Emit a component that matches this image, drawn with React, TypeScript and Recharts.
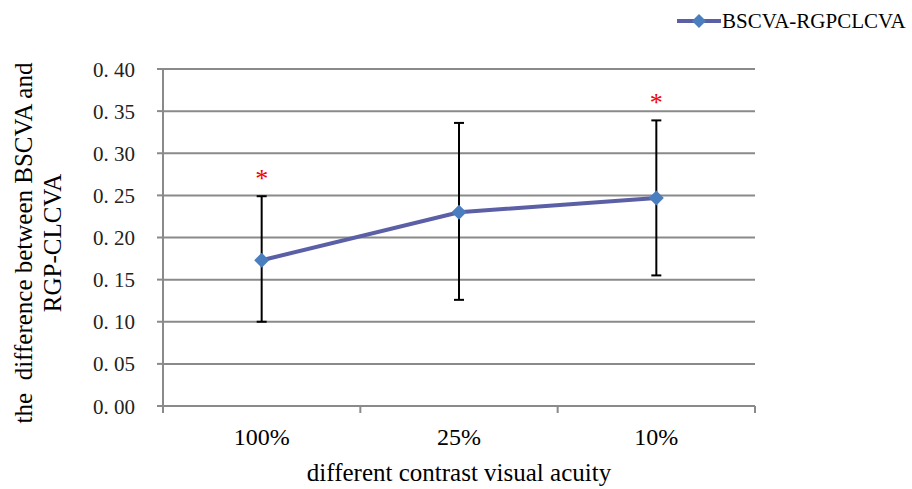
import React from 'react';
import { LineChart, Line, XAxis, YAxis, CartesianGrid, ErrorBar, LabelList, Legend, Label } from 'recharts';

const categories = ['100%', '25%', '10%'];
const meanDiff = [0.173, 0.23, 0.247];
const lowerBound = [0.1, 0.126, 0.155];
const upperBound = [0.249, 0.336, 0.339];
const significance = ['*', '', '*'];
const yTicks = [0, 0.05, 0.1, 0.15, 0.2, 0.25, 0.3, 0.35, 0.4];
// category centres sit at i + 0.5, boundaries at integers
const xTicks = [0, 0.5, 1, 1.5, 2, 2.5, 3];
const seriesName = 'BSCVA-RGPCLCVA';

const data = categories.map((c, i) => ({
  cat: c,
  idx: i + 0.5,
  value: meanDiff[i],
  err: [meanDiff[i] - lowerBound[i], upperBound[i] - meanDiff[i]],
  upper: upperBound[i],
  sig: significance[i],
}));

const FONT = 'Liberation Serif';
const GRID = '#8a8a8a';
const LINE = '#5b5fa6';
const MARK = '#4a7ebf';
const TICK_SIZE = 7;
const TICK_MARGIN = 15;

const Diamond = (props: any) => {
  const { cx, cy } = props;
  if (cx == null || cy == null) return null;
  const r = 7.5;
  return <path d={`M${cx},${cy - r}L${cx + r},${cy}L${cx},${cy + r}L${cx - r},${cy}Z`} fill={MARK} stroke="none" />;
};

const Star = (props: any) => {
  const { x, y, value } = props;
  if (!value || x == null || y == null) return null;
  return (
    <text x={x} y={y - 9} textAnchor="middle" fill="#f00000" fontSize={26} fontFamily={FONT} style={{ fontFamily: FONT }}>
      {value}
    </text>
  );
};

const YTick = (props: any) => {
  const { x, y, payload } = props;
  return (
    <text x={x} y={y} dy="0.36em" textAnchor="end" fontSize={21} fill="#222" fontFamily={FONT} style={{ fontFamily: FONT }}>
      {Number(payload.value).toFixed(2).replace('.', '. ')}
    </text>
  );
};

const XTick = (props: any) => {
  const { x, y, payload } = props;
  const v = Number(payload.value);
  if (Number.isInteger(v)) {
    const y0 = y - TICK_MARGIN - TICK_SIZE;
    return <line x1={x} x2={x} y1={y0} y2={y0 + TICK_SIZE} stroke={GRID} strokeWidth={2} />;
  }
  const label = categories[Math.floor(v)];
  return (
    <text x={x} y={y} dy="0.71em" textAnchor="middle" fontSize={24} fill="#000" fontFamily={FONT} style={{ fontFamily: FONT }}>
      {label}
    </text>
  );
};

const XTitle = (props: any) => {
  const vb = props.viewBox || {};
  const cx = (vb.x || 0) + (vb.width || 0) / 2;
  return (
    <text x={cx} y={481} textAnchor="middle" fontSize={25} fill="#000" fontFamily={FONT} style={{ fontFamily: FONT }}>
      different contrast visual acuity
    </text>
  );
};

const YTitle = () => (
  <g>
    <text transform="translate(23,243) rotate(-90)" textAnchor="middle" dominantBaseline="central" fontSize={25} fill="#000" fontFamily={FONT} style={{ fontFamily: FONT, whiteSpace: 'pre' }}>
      {'the  difference between BSCVA and'}
    </text>
    <text transform="translate(52,243) rotate(-90)" textAnchor="middle" dominantBaseline="central" fontSize={25} fill="#000" fontFamily={FONT} style={{ fontFamily: FONT }}>
      RGP-CLCVA
    </text>
  </g>
);

const LegendContent = () => (
  <svg width={242} height={40} style={{ display: 'block' }}>
    <line x1={7} y1={21} x2={51} y2={21} stroke={LINE} strokeWidth={4} />
    <path d="M29,14L36,21L29,28L22,21Z" fill={MARK} />
    <text x={52} y={28} fontSize={21} fill="#000" fontFamily={FONT} style={{ fontFamily: FONT }}>{seriesName}</text>
  </svg>
);

export default function App() {
  return (
    <div style={{ position: 'absolute', left: 0, top: 0, width: 912, height: 489, background: '#fff', fontFamily: FONT }}>
      <LineChart width={912} height={489} data={data} margin={{ top: 69, right: 157, left: 0, bottom: 0 }}>
        <CartesianGrid vertical={false} stroke={GRID} strokeWidth={2} />
        <XAxis
          type="number"
          dataKey="idx"
          domain={[0, 3]}
          allowDataOverflow
          ticks={xTicks}
          interval={0}
          tickSize={TICK_SIZE}
          tickMargin={TICK_MARGIN}
          tickLine={false}
          axisLine={{ stroke: GRID, strokeWidth: 2 }}
          height={83}
          tick={XTick}
        >
          <Label content={XTitle} />
        </XAxis>
        <YAxis
          domain={[0, 0.4]}
          ticks={yTicks}
          allowDataOverflow
          width={163}
          tickSize={6}
          tickMargin={22}
          axisLine={{ stroke: GRID, strokeWidth: 2 }}
          tickLine={{ stroke: GRID, strokeWidth: 2 }}
          tick={YTick}
        >
          <Label content={YTitle} />
        </YAxis>
        <Legend
          layout="horizontal"
          verticalAlign="middle"
          align="center"
          content={LegendContent}
          wrapperStyle={{ position: 'absolute', left: 670, top: 0, width: 242, height: 40 }}
        />
        <Line
          dataKey="value"
          name={seriesName}
          stroke={LINE}
          strokeWidth={4}
          dot={Diamond}
          activeDot={false}
          isAnimationActive={false}
        >
          <ErrorBar dataKey="err" direction="y" width={5} stroke="#000" strokeWidth={2} />
        </Line>
        <Line
          dataKey="upper"
          stroke="none"
          dot={false}
          activeDot={false}
          legendType="none"
          isAnimationActive={false}
        >
          <LabelList dataKey="sig" content={Star} />
        </Line>
      </LineChart>
    </div>
  );
}
